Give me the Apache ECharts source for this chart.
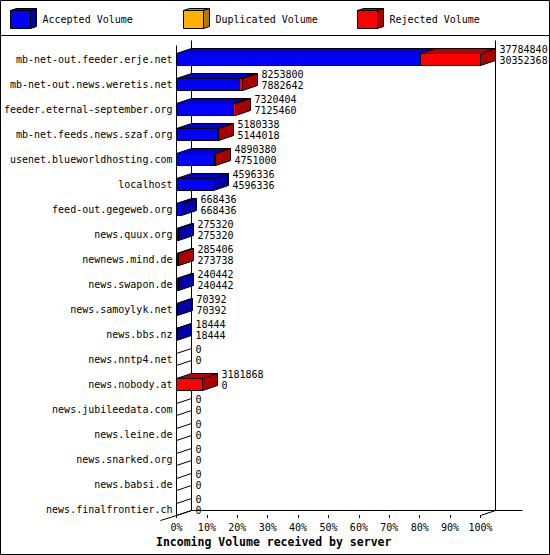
<!DOCTYPE html>
<html>
<head>
<meta charset="utf-8">
<script src="https://cdn.jsdelivr.net/npm/echarts@6/dist/echarts.min.js"></script>
<style>
html,body{margin:0;padding:0;background:#fff;}
#chart{width:550px;height:555px;}
</style>
</head>
<body>
<div id="chart"></div>
<script>
const hosts = [
  'mb-net-out.feeder.erje.net','mb-net-out.news.weretis.net','feeder.eternal-september.org',
  'mb-net.feeds.news.szaf.org','usenet.blueworldhosting.com','localhost','feed-out.gegeweb.org',
  'news.quux.org','newnews.mind.de','news.swapon.de','news.samoylyk.net','news.bbs.nz',
  'news.nntp4.net','news.nobody.at','news.jubileedata.com','news.leine.de','news.snarked.org',
  'news.babsi.de','news.finalfrontier.ch'
];
const totalVolume = [37784840,8253800,7320404,5180338,4890380,4596336,668436,275320,285406,240442,70392,18444,0,3181868,0,0,0,0,0];
const acceptedVolume = [30352368,7882642,7125460,5144018,4751000,4596336,668436,275320,273738,240442,70392,18444,0,0,0,0,0,0,0];
const duplicatedVolume = [0,0,0,0,0,0,0,0,0,0,0,0,0,0,0,0,0,0,0];
const rejectedVolume = [7432472,371158,194944,36320,139380,0,0,0,11668,0,0,0,0,3181868,0,0,0,0,0];
const seriesNames = ['Accepted Volume','Duplicated Volume','Rejected Volume'];
const axisTitle = 'Incoming Volume received by server';

const FONT = 'DejaVu Sans Mono';
const DX = 15, DY = 5, H = 12;
const colors = {
  acc: {front:'#0000FF', top:'#0000CC', side:'#0000AA'},
  dup: {front:'#FFB000', top:'#C88A00', side:'#B07800'},
  rej: {front:'#FF0000', top:'#BB0000', side:'#AA0000'}
};

const maxTotal = Math.max(...totalVolume);
const pct = v => v / maxTotal * 100;
const accData = [], dupData = [], rejData = [], labelData = [];
hosts.forEach((h, i) => {
  const a1 = pct(acceptedVolume[i]);
  const d1 = a1 + pct(duplicatedVolume[i]);
  const r1 = d1 + pct(rejectedVolume[i]);
  accData.push([0, a1, i, totalVolume[i]]);
  dupData.push([a1, d1, i, totalVolume[i]]);
  rejData.push([d1, r1, i, totalVolume[i]]);
  labelData.push([r1, i, totalVolume[i], acceptedVolume[i]]);
});

const snap = v => Math.round(v - 0.5) + 0.5;
const lineStyle = {stroke:'#000', lineWidth:1, fill:null};

function boxRenderer(c, drawEmpty) {
  return function (params, api) {
    const s = api.value(0), e = api.value(1), row = api.value(2), tot = api.value(3);
    const p0 = api.coord([s, row]);
    const p1 = api.coord([e, row]);
    const yc = p0[1];
    const yt = snap(yc - H / 2), yb = snap(yc + H / 2);
    const x0 = snap(p0[0]);
    let x1 = snap(p1[0]);
    if (!(e > s)) {
      if (drawEmpty && tot === 0) {
        return {type:'group', children:[
          {type:'line', shape:{x1:x0, y1:yt, x2:x0 + DX, y2:yt - DY}, style:lineStyle},
          {type:'line', shape:{x1:x0, y1:yb, x2:x0 + DX, y2:yb - DY}, style:lineStyle}
        ]};
      }
      return null;
    }
    return {type:'group', children:[
      {type:'polygon', shape:{points:[[x0,yt],[x0+DX,yt-DY],[x1+DX,yt-DY],[x1,yt]]},
        style:{fill:c.top, stroke:'#000', lineWidth:1}},
      {type:'polygon', shape:{points:[[x1,yt],[x1+DX,yt-DY],[x1+DX,yb-DY],[x1,yb]]},
        style:{fill:c.side, stroke:'#000', lineWidth:1}},
      {type:'rect', shape:{x:x0, y:yt, width:x1 - x0, height:yb - yt},
        style:{fill:c.front, stroke:'#000', lineWidth:1}}
    ]};
  };
}

function labelRenderer(params, api) {
  const end = api.value(0), row = api.value(1);
  const p = api.coord([end, row]);
  const x = snap(p[0]) + DX + 4;
  const yc = p[1];
  const y1 = yc - H / 2 - DY + 1;
  const y2 = y1 + 11;
  const st = {fill:'#000', font:'10px "' + FONT + '"', textAlign:'left', textVerticalAlign:'middle'};
  return {type:'group', children:[
    {type:'text', x:x, y:y1, style:Object.assign({text:String(api.value(2))}, st)},
    {type:'text', x:x, y:y2, style:Object.assign({text:String(api.value(3))}, st)}
  ]};
}

const chart = echarts.init(document.getElementById('chart'), null, {renderer:'svg', width:550, height:555});

const legendCommon = {
  orient:'horizontal', top:10, padding:0, itemWidth:20, itemHeight:18, icon:'rect',
  selectedMode:false,
  itemStyle:{borderColor:'#000', borderWidth:1},
  textStyle:{fontFamily:FONT, fontSize:10, color:'#000', padding:[0,0,0,7]}
};

chart.setOption({
  animation:false,
  backgroundColor:'#fff',
  title:{text:axisTitle, left:156, top:535, padding:0,
    textStyle:{fontFamily:FONT, fontSize:11.5, fontWeight:'bold', color:'#000', lineHeight:13}},
  legend:[
    Object.assign({data:[seriesNames[0]], left:10}, legendCommon),
    Object.assign({data:[seriesNames[1]], left:183}, legendCommon),
    Object.assign({data:[seriesNames[2]], left:357}, legendCommon)
  ],
  grid:{left:176.5, right:69.5, top:47, height:475, outerBoundsMode:'none', containLabel:false},
  xAxis:{type:'value', min:0, max:100, interval:10, offset:-7,
    axisLine:{show:false},
    axisTick:{show:true, length:3, lineStyle:{color:'#000', width:1}},
    splitLine:{show:false},
    axisLabel:{formatter:'{value}%', fontFamily:FONT, fontSize:10, color:'#000', margin:7}},
  yAxis:{type:'category', data:hosts, inverse:true,
    axisLine:{show:false}, axisTick:{show:false}, splitLine:{show:false},
    axisLabel:{fontFamily:FONT, fontSize:10, color:'#000', margin:4, interval:0}},
  series:[
    {name:seriesNames[0], type:'custom', clip:false, z:3, itemStyle:{color:colors.acc.front},
      encode:{x:[0,1], y:2}, data:accData, renderItem:boxRenderer(colors.acc, true)},
    {name:seriesNames[1], type:'custom', clip:false, z:3, itemStyle:{color:colors.dup.front},
      encode:{x:[0,1], y:2}, data:dupData, renderItem:boxRenderer(colors.dup, false)},
    {name:seriesNames[2], type:'custom', clip:false, z:3, itemStyle:{color:colors.rej.front},
      encode:{x:[0,1], y:2}, data:rejData, renderItem:boxRenderer(colors.rej, false)},
    {name:'labels', type:'custom', clip:false, z:4, silent:true,
      encode:{x:0, y:1}, data:labelData, renderItem:labelRenderer}
  ]
});

// frame / decoration derived from the axes
const x0 = snap(chart.convertToPixel({xAxisIndex:0}, 0));
const x100 = snap(chart.convertToPixel({xAxisIndex:0}, 100));
const rowTop = chart.convertToPixel({yAxisIndex:0}, hosts[0]);
const rowBot = chart.convertToPixel({yAxisIndex:0}, hosts[hosts.length - 1]);
const gridTop = rowTop - 12.5, gridBot = rowBot + 12.5;
const fTop = snap(gridTop - 1.5), fBot = snap(gridBot - 6.5);
const bTop = fTop - DY, bBot = fBot - DY;
const L = (a, b, c, d, z) => ({type:'line', z:z || 1, shape:{x1:a, y1:b, x2:c, y2:d}, style:{stroke:'#000', lineWidth:1}});

const legendX = [10, 183, 357];
const legendCols = [colors.acc, colors.dup, colors.rej];
const legendDeco = [];
legendX.forEach((lx, k) => {
  const c = legendCols[k];
  legendDeco.push({type:'polygon', z:10, shape:{points:[[lx+0.5,10.5],[lx+6.5,8.5],[lx+26.5,8.5],[lx+20.5,10.5]]},
    style:{fill:c.top, stroke:'#000', lineWidth:1}});
  legendDeco.push({type:'polygon', z:10, shape:{points:[[lx+20.5,10.5],[lx+26.5,8.5],[lx+26.5,26.5],[lx+20.5,28.5]]},
    style:{fill:c.side, stroke:'#000', lineWidth:1}});
});

chart.setOption({
  graphic:[
    {type:'rect', z:0, shape:{x:0.5, y:0.5, width:549, height:554}, style:{fill:null, stroke:'#000', lineWidth:1}},
    L(0, 35.5, 550, 35.5, 0),
    L(x0, fTop, x0, fBot, 1),
    L(x0 + DX, bTop, x0 + DX, bBot, 1),
    L(x0 + DX, bBot, x100 + DX + 27, bBot, 1),
    L(x100 + DX, bTop, x100 + DX, bBot, 1),
    L(x100, fBot, x100 + DX, bBot, 1),
    L(x0 - DX - 1, fBot + DY, x0, fBot, 1),
    L(x0, fBot, x0 + DX, bBot, 1)
  ].concat(legendDeco)
});
</script>
</body>
</html>
